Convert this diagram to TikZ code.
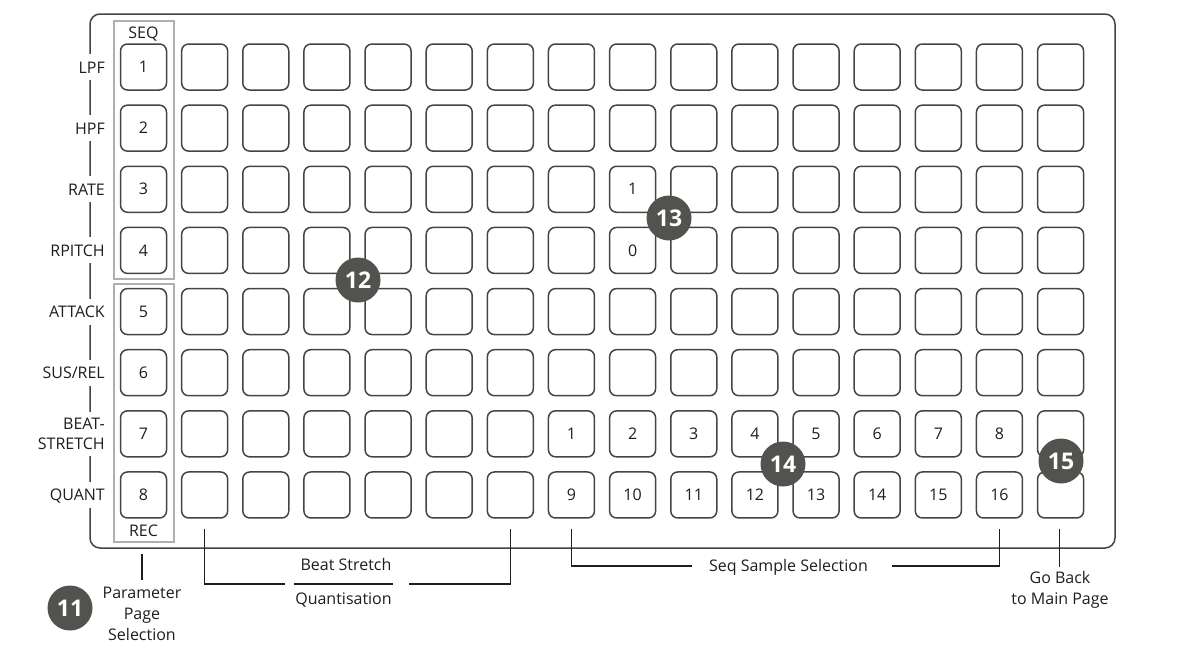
\documentclass[tikz,border=0pt]{standalone}
\usepackage{fontspec}
\setmainfont{Open Sans}
\usetikzlibrary{calc}
\definecolor{badgegray}{RGB}{82,83,78}
\definecolor{ink}{RGB}{30,30,30}
\definecolor{padline}{RGB}{68,68,68}
\definecolor{gline}{RGB}{175,175,175}
\newcommand\mysize{\fontsize{16}{20}\selectfont}
\newcommand\padlab[2]{%
\ifnum#1=6\relax\ifnum#2>6\relax\ifnum#2<15\relax\number\numexpr#2-6\relax\fi\fi\fi%
\ifnum#1=7\relax\ifnum#2>6\relax\ifnum#2<15\relax\number\numexpr#2+2\relax\fi\fi\fi%
\ifnum#1=2\relax\ifnum#2=8\relax 1\fi\fi%
\ifnum#1=3\relax\ifnum#2=8\relax 0\fi\fi%
\ifnum#2=0\relax\number\numexpr#1+1\relax\fi}
\begin{document}
\begin{tikzpicture}[x=1pt,y=-1pt,
  pad/.style={draw=padline, line width=1.5pt, rounded corners=7pt, minimum size=46pt, inner sep=0pt, font=\mysize, text=ink},
  rowlab/.style={anchor=east, fill=white, inner xsep=1pt, inner ysep=7pt, text height=12pt, text depth=0pt, font=\mysize, text=ink},
  txt/.style={inner sep=0pt, text height=11.5pt, text depth=0pt, font=\mysize, text=ink},
  ml/.style={align=center, inner sep=0pt, font=\fontsize{16}{21}\selectfont, text=ink},
  badge/.style={circle, fill=badgegray, minimum size=45pt, inner sep=0pt, text=white, font=\fontsize{23}{23}\selectfont\bfseries},
  conn/.style={draw=ink, line width=1.2pt}]
\useasboundingbox (0,0) rectangle (1200,656);
% frame
\draw[draw=padline, line width=1.5pt, rounded corners=10pt] (90,14) rectangle (1115,548);
% parameter column boxes
\draw[gline, line width=1.3pt] (114,21) rectangle (174,279);
\draw[gline, line width=1.3pt] (114,284) rectangle (174,542);
\node[txt] (seq) at (143.5,32.5) {SEQ};
\node[txt] (rec) at (143.5,531) {REC};
% pads
\foreach \r in {0,...,7}{
  \foreach \c in {0,...,15}{
    \node[pad] (p-\r-\c) at ({143.5+\c*61.14},{67+\r*61.14}) {\padlab{\r}{\c}};
  }
}
% row labels
\foreach \t [count=\i from 0] in {LPF,HPF,RATE,RPITCH,ATTACK,SUS/REL}{
  \node[rowlab] (lab-\i) at ({106},{67+\i*61.14}) {\t};
}
\node[rowlab, text height=, text depth=, align=right, inner ysep=6pt, font=\fontsize{16}{20}\selectfont] (lab-6) at (106,{67+6*61.14}) {BEAT-\\STRETCH};
\node[rowlab] (lab-7) at (106,{67+7*61.14}) {QUANT};
% parameter page selection
\coordinate (parT) at (142,554);
\coordinate (parB) at (142,580);
\draw[conn] (parT) -- (parB);
\node[ml] (par) at (142,614) {Parameter\\Page\\Selection};
% beat stretch / quantisation
\coordinate (bsL) at ($(p-7-1.south)+(0,10)$);
\coordinate (bsR) at ($(p-7-6.south)+(0,10)$);
\coordinate (bsA) at (285,584);
\coordinate (bsB) at (409,584);
\coordinate (bsM1) at (294,584);
\coordinate (bsM2) at (393,584);
\draw[conn] (bsL) |- (bsA);
\draw[conn] (bsB) -| (bsR);
\draw[conn] (bsM1) -- (bsM2);
\node[txt] (bst) at (346,565) {Beat Stretch};
\node[txt] (qua) at (343.5,599) {Quantisation};
% seq sample selection
\coordinate (sqL) at ($(p-7-7.south)+(0,10)$);
\coordinate (sqR) at ($(p-7-14.south)+(0,10)$);
\coordinate (sqA) at (692,566);
\coordinate (sqB) at (892,566);
\draw[conn] (sqL) |- (sqA);
\draw[conn] (sqB) -| (sqR);
\node[txt] (sqs) at (788.5,566) {Seq Sample Selection};
% go back
\coordinate (gbT) at ($(p-7-15.south)+(-1.5,10)$);
\coordinate (gbB) at ($(p-7-15.south)+(-1.5,48)$);
\draw[conn] (gbT) -- (gbB);
\node[ml] (gob) at (1060,590) {Go Back\\to Main Page};
% badges
\node[badge] (b11) at (70,608) {11};
\node[badge] (b12) at (358,280) {12};
\node[badge] (b13) at (669,218) {13};
\node[badge] (b14) at (783,464) {14};
\node[badge] (b15) at (1061,461) {15};
\end{tikzpicture}
\end{document}
